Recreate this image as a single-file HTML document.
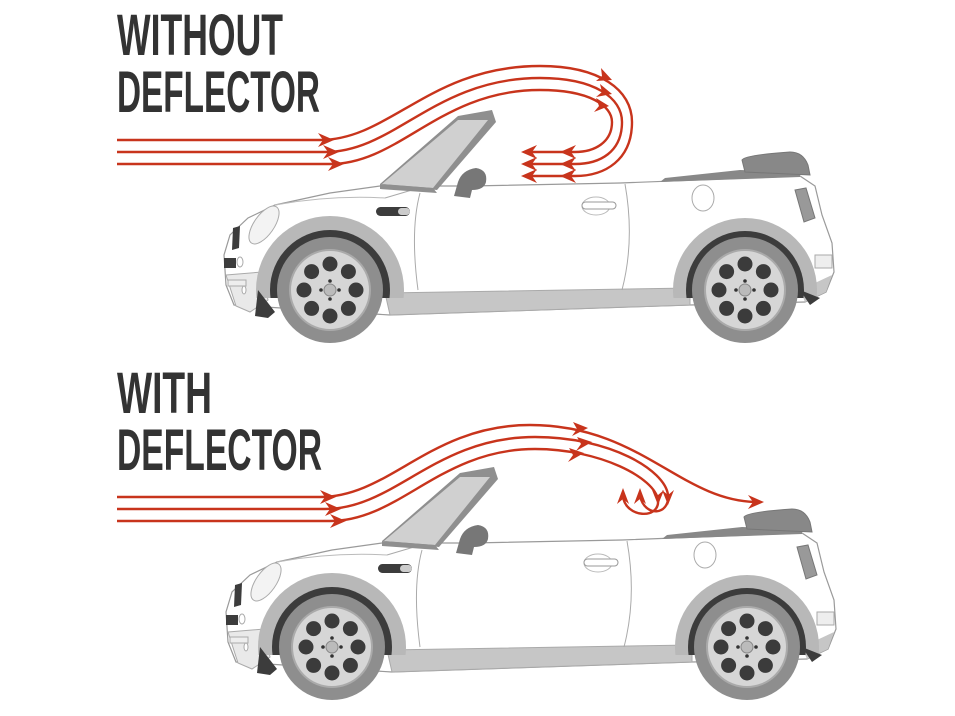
<!DOCTYPE html>
<html><head><meta charset="utf-8"><style>
html,body{margin:0;padding:0;background:#fff;}
svg{display:block;}
.t{font-family:"Liberation Sans",sans-serif;font-weight:bold;font-size:58px;fill:#333;}
.r{fill:none;stroke:#c8341c;stroke-width:2.4;}
.h{fill:#c8341c;}
</style></head><body>
<svg width="955" height="716" viewBox="0 0 955 716" xmlns="http://www.w3.org/2000/svg">
<defs>
<clipPath id="ca"><rect x="0" y="0" width="955" height="298"/></clipPath>
<g id="wheel">
  <circle r="53" fill="#8e8e8e"/>
  <circle r="40" fill="#d6d6d6" stroke="#aaa" stroke-width="2"/>
  <g fill="#3b3b3b">
    <circle cx="0" cy="-26" r="7.5"/><circle cx="18.4" cy="-18.4" r="7.5"/><circle cx="26" cy="0" r="7.5"/><circle cx="18.4" cy="18.4" r="7.5"/>
    <circle cx="0" cy="26" r="7.5"/><circle cx="-18.4" cy="18.4" r="7.5"/><circle cx="-26" cy="0" r="7.5"/><circle cx="-18.4" cy="-18.4" r="7.5"/>
  </g>
  <circle r="6" fill="#bbb" stroke="#888"/>
  <g fill="#333"><circle cx="0" cy="-9" r="1.8"/><circle cx="9" cy="0" r="1.8"/><circle cx="0" cy="9" r="1.8"/><circle cx="-9" cy="0" r="1.8"/></g>
</g>
<g id="car">
  <path d="M234,305 L226,285 L224,255 L230,235 L248,218 L275,205 L330,193 L380,186 L470,186 L620,183 L800,176 L815,186 L822,215 L832,243 L834,272 L826,292 L805,302 L690,305 L390,315 Z" fill="#fff" stroke="#9a9a9a" stroke-width="1.2"/>
  <path d="M226,275 L262,272 L268,300 L250,312 L236,306 Z" fill="#e9e9e9" stroke="#aaa"/>
  <path d="M385,293 L690,288 L690,305 L390,315 Z" fill="#c6c6c6" stroke="#aaa"/>
  <path d="M800,290 L832,275 L826,292 L805,302 Z" fill="#c6c6c6"/>
  <g clip-path="url(#ca)">
    <circle cx="330" cy="290" r="74" fill="#b8b8b8"/>
    <circle cx="330" cy="290" r="60" fill="#3c3c3c"/>
    <circle cx="745" cy="290" r="72" fill="#b8b8b8"/>
    <circle cx="745" cy="290" r="59" fill="#3c3c3c"/>
  </g>
  <path d="M258,290 L275,312 L268,318 L255,316 Z" fill="#3c3c3c"/>
  <path d="M800,290 L820,298 L810,305 Z" fill="#3c3c3c"/>
  <use href="#wheel" x="330" y="290"/>
  <use href="#wheel" x="745" y="290"/>
  <ellipse cx="264" cy="225" rx="10" ry="22" transform="rotate(35 264 225)" fill="#f3f3f3" stroke="#aaa"/>
  <path d="M233,228 L240,226 L239,248 L232,250 Z" fill="#3c3c3c"/>
  <path d="M224,258 L236,258 L236,268 L224,268 Z" fill="#3c3c3c"/>
  <ellipse cx="240" cy="262" rx="3" ry="5" fill="#fff" stroke="#aaa"/>
  <path d="M228,280 L246,280 L246,286 L228,286 Z" fill="#eee" stroke="#aaa"/>
  <ellipse cx="244" cy="290" rx="2" ry="4" fill="#fff" stroke="#aaa"/>
  <path d="M275,205 Q330,195 385,198" fill="none" stroke="#bbb"/>
  <rect x="376" y="207" width="34" height="9" rx="4.5" fill="#3c3c3c"/>
  <rect x="398" y="208" width="12" height="7" rx="3.5" fill="#ccc"/>
  <path d="M420,193 Q410,230 418,290" fill="none" stroke="#aaa"/>
  <path d="M385,198 L412,190" fill="none" stroke="#aaa"/>
  <path d="M625,184 Q635,240 622,290" fill="none" stroke="#aaa"/>
  <ellipse cx="596" cy="206" rx="14" ry="9" fill="none" stroke="#bbb"/>
  <rect x="582" y="202" width="34" height="7" rx="3.5" fill="#fff" stroke="#999"/>
  <ellipse cx="703" cy="198" rx="11" ry="13" fill="none" stroke="#aaa"/>
  <path d="M795,190 L806,188 L815,218 L804,222 Z" fill="#999" stroke="#777"/>
  <path d="M815,255 L832,255 L832,268 L815,268 Z" fill="#eee" stroke="#aaa"/>
  <path d="M665,178 L740,170 L800,172 L800,177 L660,182 Z" fill="#888"/>
  <path d="M742,160 Q745,155 790,152 Q803,152 808,165 L810,175 L745,172 Z" fill="#888" stroke="#777"/>
  <!-- windshield -->
  <path d="M380,184 L458,116 L492,110 L496,122 L437,190 Z" fill="#8f8f8f"/>
  <path d="M382,184 L458,120 L488,120 L433,188 Z" fill="#d0d0d0"/>
  <path d="M380,184 L433,188 L437,193 L380,189 Z" fill="#8f8f8f"/>
  <!-- mirror -->
  <path d="M454,196 L458,182 Q462,170 476,168 Q488,170 486,182 Q484,190 472,190 L470,198 Z" fill="#777"/>
</g>
</defs>

<text class="t" x="117" y="55" textLength="166" lengthAdjust="spacingAndGlyphs">WITHOUT</text>
<text class="t" x="117" y="112" textLength="203" lengthAdjust="spacingAndGlyphs">DEFLECTOR</text>
<text class="t" x="117" y="413" textLength="95" lengthAdjust="spacingAndGlyphs">WITH</text>
<text class="t" x="117" y="470" textLength="205" lengthAdjust="spacingAndGlyphs">DEFLECTOR</text>

<use href="#car"/>
<use href="#car" x="2" y="357"/>

<path class="r" d="M117,140 L320,140 C390,140 430,66 540,66 C600,66 632,90 632,122 C632,160 605,176 575,176 L527,176"/>
<path class="r" d="M117,152 L325,152 C395,152 435,78 540,78 C595,78 622,98 622,122 C622,152 600,164 575,164 L527,164"/>
<path class="r" d="M117,164 L330,164 C400,164 440,90 540,90 C590,90 612,106 612,122 C612,142 595,152 575,152 L527,152"/>
<g class="h">
<path d="M334,140 l-16,-7 l5,7 l-5,7z"/><path d="M339,152 l-16,-7 l5,7 l-5,7z"/><path d="M344,164 l-16,-7 l5,7 l-5,7z"/>
<path d="M612,80 l-11,-12 l1,8 l-6,5z"/><path d="M612,94 l-12,-10 l2,8 l-6,5z"/><path d="M609,106 l-13,-8 l3,8 l-5,6z"/>
<path d="M560,152 l16,-7 l-5,7 l5,7z"/><path d="M560,164 l16,-7 l-5,7 l5,7z"/><path d="M560,176 l16,-7 l-5,7 l5,7z"/>
<path d="M521,152 l16,-7 l-5,7 l5,7z"/><path d="M521,164 l16,-7 l-5,7 l5,7z"/><path d="M521,176 l16,-7 l-5,7 l5,7z"/>
</g>

<path class="r" d="M117,497 L320,497 C390,497 430,425 530,425 C640,425 680,500 755,502"/>
<path class="r" d="M117,509 L325,509 C395,509 435,437 535,437 C610,437 665,470 668,495 C670,515 645,518 640,496"/>
<path class="r" d="M117,521 L330,521 C400,521 440,449 535,449 C600,449 655,478 658,500 C660,520 625,518 623,496"/>
<g class="h">
<path d="M336,497 l-16,-7 l5,7 l-5,7z"/><path d="M341,509 l-16,-7 l5,7 l-5,7z"/><path d="M346,521 l-16,-7 l5,7 l-5,7z"/>
<path d="M588,428 l-15,-6 l4,7 l-5,7z"/><path d="M592,442 l-15,-5 l4,7 l-5,7z"/><path d="M584,453 l-15,-5 l4,7 l-5,7z"/>
<path d="M764,502 l-16,-7 l5,7 l-5,7z"/>
<path d="M623,488 l-6,16 l6,-5 l6,5z"/><path d="M640,488 l-6,16 l6,-5 l6,5z"/>
<path d="M668,505 l-6,-15 l6,5 l6,-5z"/><path d="M658,505 l-6,-15 l6,5 l6,-5z"/>
</g>
</svg>
</body></html>
